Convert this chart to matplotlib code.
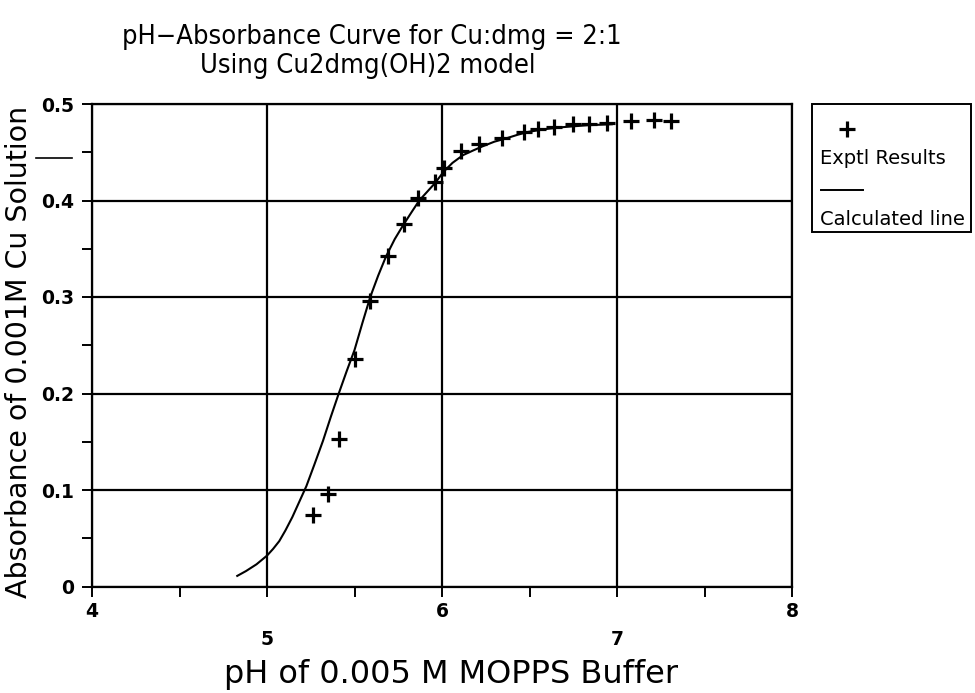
import matplotlib
matplotlib.use("Agg")
import matplotlib.pyplot as plt
import matplotlib.transforms as mtransforms
from matplotlib.lines import Line2D
from matplotlib.patches import Rectangle

# Experimental absorbance readings
ph_exp = [5.26, 5.35, 5.41, 5.50, 5.59, 5.69, 5.78, 5.86, 5.96, 6.01,
          6.11, 6.21, 6.34, 6.47, 6.55, 6.64, 6.75, 6.84, 6.94, 7.08,
          7.21, 7.31]
abs_exp = [0.074, 0.096, 0.153, 0.236, 0.296, 0.343, 0.376, 0.403, 0.419, 0.434,
           0.451, 0.459, 0.465, 0.471, 0.474, 0.476, 0.479, 0.479, 0.480, 0.482,
           0.483, 0.482]

# Model curve (Cu2dmg(OH)2)
ph_calc = [4.83, 4.88, 4.94, 5.00, 5.035, 5.07, 5.105, 5.145, 5.185, 5.225,
           5.27, 5.32, 5.365, 5.41, 5.455, 5.50, 5.545, 5.59, 5.635, 5.68,
           5.73, 5.78, 5.83, 5.87, 5.92, 5.96, 6.01, 6.06, 6.12, 6.18,
           6.23, 6.30, 6.36, 6.43, 6.49, 6.59, 6.69, 6.83, 6.97]
abs_calc = [0.011, 0.016, 0.023, 0.032, 0.039, 0.047, 0.058, 0.072, 0.088, 0.104,
            0.126, 0.151, 0.176, 0.200, 0.223, 0.245, 0.273, 0.300, 0.322, 0.342,
            0.360, 0.375, 0.389, 0.400, 0.410, 0.418, 0.430, 0.439, 0.447, 0.452,
            0.456, 0.461, 0.464, 0.468, 0.471, 0.474, 0.476, 0.478, 0.479]

x_ticks = [4, 5, 6, 7, 8]
x_tick_labels = ["4", "5", "6", "7", "8"]
y_ticks = [0, 0.1, 0.2, 0.3, 0.4, 0.5]
y_tick_labels = ["0", "0.1", "0.2", "0.3", "0.4", "0.5"]

title_lines = ["pH\u2212Absorbance Curve for Cu:dmg = 2:1", "Using Cu2dmg(OH)2 model"]
x_label = "pH of 0.005 M MOPPS Buffer"
y_label = "Absorbance of 0.001M Cu Solution"
legend_labels = ["Exptl Results", "Calculated line"]

W, H = 975, 693
fig = plt.figure(figsize=(W / 100, H / 100), dpi=100)
fig.patch.set_facecolor("white")

ax_l, ax_r, ax_t, ax_b = 92, 792, 104, 586.5
ax = fig.add_axes([ax_l / W, 1 - ax_b / H, (ax_r - ax_l) / W, (ax_b - ax_t) / H])

ax.plot(ph_calc, abs_calc, color="black", lw=1.5, zorder=3)
ax.plot(ph_exp, abs_exp, linestyle="none", marker="+", color="black",
        markersize=11, markeredgewidth=2.3, zorder=4)

ax.set_xlim(4, 8)
ax.set_ylim(0, 0.5)
ax.set_xticks(x_ticks)
ax.set_xticks([4.5, 5.5, 6.5, 7.5], minor=True)
ax.set_yticks(y_ticks)
ax.set_yticks([0.05, 0.15, 0.25, 0.35, 0.45], minor=True)
ax.set_yticklabels(y_tick_labels, fontsize=13.5, fontweight="bold")
ax.set_xticklabels([])
ax.tick_params(axis="both", which="both", direction="out", length=7,
               width=1.4, color="black")
ax.tick_params(axis="y", pad=6)
ax.grid(True, which="major", color="black", linewidth=1.6)
ax.set_axisbelow(True)
for sp in ax.spines.values():
    sp.set_linewidth(1.6)
    sp.set_color("black")

# staggered x tick labels
trans = mtransforms.blended_transform_factory(ax.transData, ax.transAxes)
for i, (v, lab) in enumerate(zip(x_ticks, x_tick_labels)):
    yy = -0.051 if i % 2 == 0 else -0.109
    ax.text(v, yy, lab, transform=trans, ha="center", va="center",
            fontsize=13.5, fontweight="bold")

fig.text(372 / W, 1 - 37 / H, title_lines[0], ha="center", va="center",
         fontsize=19.5, fontstretch="condensed")
fig.text(368 / W, 1 - 66 / H, title_lines[1], ha="center", va="center",
         fontsize=19.5, fontstretch="condensed")
fig.text(451 / W, 1 - 675 / H, x_label, ha="center", va="center",
         fontsize=23)
fig.text(19 / W, 1 - 352 / H, y_label, ha="center", va="center",
         rotation=90, fontsize=20.5)

# short stroke crossing the axis label
fig.add_artist(Line2D([36 / W, 72 / W], [1 - 158 / H, 1 - 158 / H],
                      color="black", lw=1.2))

# legend box
fig.add_artist(Rectangle((812 / W, 1 - 232 / H), (971 - 812) / W, (232 - 104) / H,
                         facecolor="white", edgecolor="black", lw=1.4))
fig.add_artist(Line2D([846.7 / W], [1 - 129 / H], marker="+", color="black",
                      markersize=11, markeredgewidth=2.3, linestyle="none"))
fig.text(820 / W, 1 - 158 / H, legend_labels[0], ha="left", va="center", fontsize=14)
fig.add_artist(Line2D([821 / W, 863 / W], [1 - 190 / H, 1 - 190 / H],
                      color="black", lw=1.4))
fig.text(820 / W, 1 - 219 / H, legend_labels[1], ha="left", va="center", fontsize=14)

fig.savefig("out.png", dpi=100, facecolor="white")
